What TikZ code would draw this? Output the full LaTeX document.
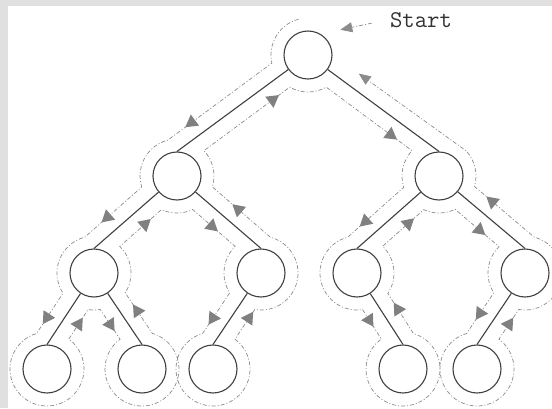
\documentclass[tikz,border=0pt]{standalone}
\usetikzlibrary{calc,arrows.meta,shapes.geometric}
\tikzset{
  vertex/.style={circle,draw=black!75,line width=1.1pt,minimum size=48pt,inner sep=0pt},
  edge/.style={draw=black!75,line width=1.1pt},
  tour/.style={draw=black!45,line width=0.7pt,dash pattern=on 4pt off 2pt on 1pt off 2pt},
  tourtip/.style={isosceles triangle,isosceles triangle apex angle=60,fill=black!50,
    inner sep=0pt,minimum height=12pt,minimum width=11pt,sloped,allow upside down}
}
\def\tr{37}
\begin{document}
\begin{tikzpicture}[x=1pt,y=1pt]
\useasboundingbox (0,0) rectangle (552,408);
\fill[black!12] (0,0) rectangle (552,408);
\fill[white] (8,0) rectangle (552,402);
\clip (8,0) rectangle (552,402);
% the tree
\node[vertex] (root) at (308,353) {};
\node[vertex] (l) at (177,232) {};
\node[vertex] (r) at (439,232) {};
\node[vertex] (ll) at (94,135) {};
\node[vertex] (lr) at (261,135) {};
\node[vertex] (rl) at (357,135) {};
\node[vertex] (rr) at (525,135) {};
\node[vertex] (lll) at (47,39) {};
\node[vertex] (llr) at (142,39) {};
\node[vertex] (lrl) at (213,39) {};
\node[vertex] (rlr) at (403,39) {};
\node[vertex] (rrl) at (477,39) {};
\draw[edge] (root) -- (l.north);
\draw[edge] (root) -- (r.north);
\draw[edge] (l) -- (ll.north);
\draw[edge] (l) -- (lr.north);
\draw[edge] (ll) -- (lll.north);
\draw[edge] (ll) -- (llr.north);
\draw[edge] (lr) -- (lrl.north);
\draw[edge] (r) -- (rl.north);
\draw[edge] (r) -- (rr.north);
\draw[edge] (rl) -- (rlr.north);
\draw[edge] (rr) -- (rrl.north);
% start
\node[font=\fontsize{24}{28}\selectfont\ttfamily,text=black!80] (start) at (421,388) {Start};
\coordinate (entry) at ($(root)+(38:41)$);
\draw[tour,-{Triangle[length=12pt,width=10pt]},shorten <=15pt] (start.west) -- (entry);
% walk round the tree
\coordinate (back) at ($(r)+(343.6:\tr)$);
\coordinate (leave) at ($(r)+(43:\tr)$);
\coordinate (exit) at ($(root)+(347.4:\tr)$);
\draw[tour,-{Triangle[length=12pt,width=10pt]}] ($(root)+(105:\tr)$) arc[start angle=105,end angle=192.6,radius=\tr]
  -- node[tourtip,pos=.77]{} ($(l)+(104.5:\tr)$) arc[start angle=104.5,end angle=197.4,radius=\tr]
  -- node[tourtip,pos=.6]{} ($(ll)+(104.4:\tr)$) arc[start angle=104.4,end angle=213,radius=\tr]
  -- node[tourtip,pos=.6]{} ($(lll)+(106.3:\tr)$) arc[start angle=106.3,end angle=414,radius=\tr]
  -- node[tourtip,pos=.5]{} ($(ll)+(260.8:\tr)$) arc[start angle=260.8,end angle=279.8,radius=\tr]
  -- node[tourtip,pos=.5]{} ($(llr)+(126.3:\tr)$) arc[start angle=126.3,end angle=433.8,radius=\tr]
  -- node[tourtip,pos=.55]{} ($(ll)+(327.6:\tr)$) arc[start angle=327.6,end angle=405.9,radius=\tr]
  -- node[tourtip,pos=.6]{} ($(l)+(245.2:\tr)$) arc[start angle=245.2,end angle=295.1,radius=\tr]
  -- node[tourtip,pos=.45]{} ($(lr)+(134.2:\tr)$) arc[start angle=134.2,end angle=212.4,radius=\tr]
  -- node[tourtip,pos=.62]{} ($(lrl)+(106.2:\tr)$) arc[start angle=106.2,end angle=413.7,radius=\tr]
  -- node[tourtip,pos=.7]{} ($(lr)+(260.2:\tr)$) arc[start angle=260.2,end angle=435.5,radius=\tr]
  -- node[tourtip,pos=.55]{} ($(l)+(342.9:\tr)$) arc[start angle=342.9,end angle=403.2,radius=\tr]
  -- node[tourtip,pos=.8]{} ($(root)+(240.4:\tr)$) arc[start angle=240.4,end angle=299.6,radius=\tr]
  -- node[tourtip,pos=.75]{} ($(r)+(136.8:\tr)$) arc[start angle=136.8,end angle=197.8,radius=\tr]
  -- node[tourtip,pos=.68]{} ($(rl)+(104.5:\tr)$) arc[start angle=104.5,end angle=278.7,radius=\tr]
  -- node[tourtip,pos=.35]{} ($(rlr)+(125.9:\tr)$) arc[start angle=125.9,end angle=433.7,radius=\tr]
  -- node[tourtip,pos=.6]{} ($(rl)+(326.5:\tr)$) arc[start angle=326.5,end angle=406.2,radius=\tr]
  -- node[tourtip,pos=.62]{} ($(r)+(245.6:\tr)$) arc[start angle=245.6,end angle=295.8,radius=\tr]
  -- node[tourtip,pos=.55]{} ($(rr)+(134.6:\tr)$) arc[start angle=134.6,end angle=212.4,radius=\tr]
  -- node[tourtip,pos=.5]{} ($(rrl)+(106.2:\tr)$) arc[start angle=106.2,end angle=413.7,radius=\tr]
  -- node[tourtip,pos=.5]{} ($(rr)+(260.2:\tr)$) arc[start angle=260.2,end angle=435.5,radius=\tr]
  -- node[tourtip,pos=.7]{} (back) arc[start angle=343.6,end angle=403,radius=\tr]
  -- ($(leave)!.88!(exit)$);
\end{tikzpicture}
\end{document}
